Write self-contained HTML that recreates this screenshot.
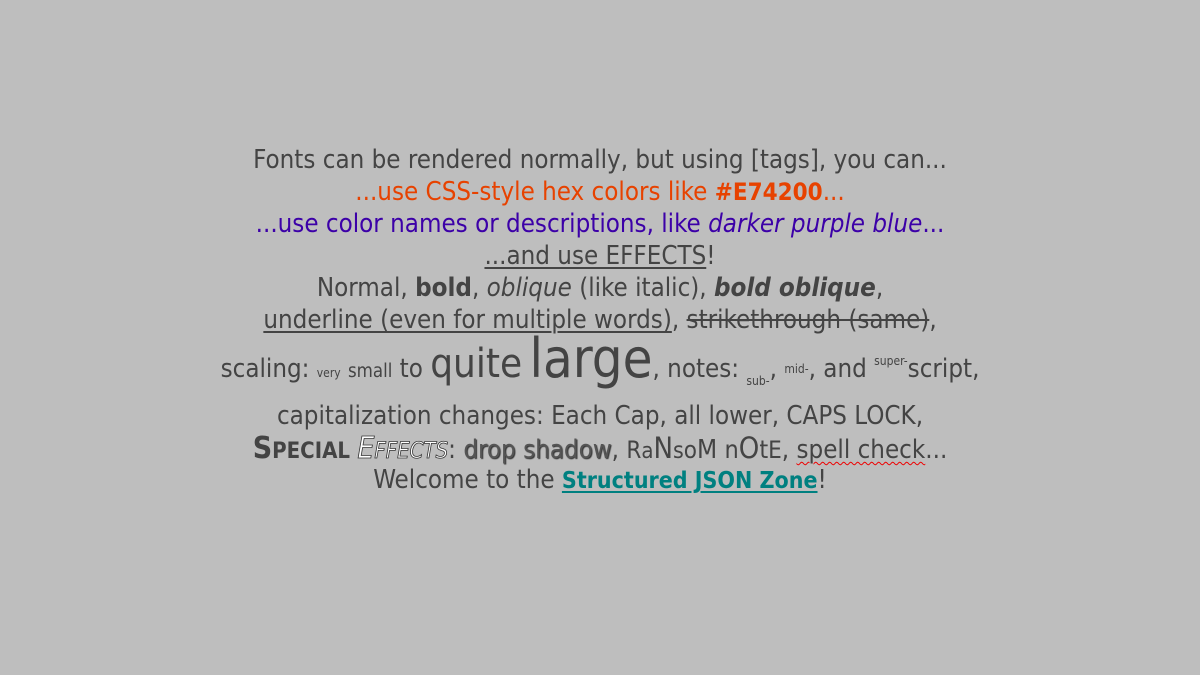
<!DOCTYPE html>
<html><head><meta charset="utf-8"><style>
html,body{margin:0;padding:0;}
body{width:1200px;height:675px;background:#bebebe;position:relative;overflow:hidden;
font-family:"DejaVu Sans Condensed","DejaVu Sans","Liberation Sans",sans-serif;font-stretch:condensed;color:#444;}
.l{position:absolute;left:0;width:1200px;text-align:center;font-size:25.7px;line-height:32px;white-space:nowrap;}
.o{color:#e74200}.p{color:#3c00a8}
u{text-decoration-thickness:2px;text-underline-offset:3px}
s{text-decoration-thickness:2px}
.sh{text-shadow:1px 1px 1px #333;color:#555}
.ef{color:#fff;font-style:italic;-webkit-text-stroke:0.8px #333;font-size:22px}
.sp{text-decoration:underline wavy #e00;text-decoration-thickness:1px;text-underline-offset:3px}
</style></head><body>
<div class="l" style="top:144px">Fonts can be rendered normally, but using [tags], you can...</div>
<div class="l o" style="top:176px">...use CSS-style hex colors like <b style="font-size:24px">#E74200</b>...</div>
<div class="l p" style="top:208px">...use color names or descriptions, like <i>darker purple blue</i>...</div>
<div class="l" style="top:240px"><u>...and use EFFECTS</u>!</div>
<div class="l" style="top:272px">Normal, <b>bold</b>, <i>oblique</i> (like italic), <b><i>bold oblique</i></b>,</div>
<div class="l" style="top:304px"><u>underline (even for multiple words)</u>, <s>strikethrough (same)</s>,</div>
<div class="l" style="top:334px;line-height:50px">scaling: <span style="font-size:12px">very</span> <span style="font-size:18.5px">small</span> to <span style="font-size:40px">quite</span> <span style="font-size:54px">large</span>, notes: <span style="font-size:12px;vertical-align:-8px">sub-</span>, <span style="font-size:12px;vertical-align:4px">mid-</span>, and <span style="font-size:12px;vertical-align:12px">super-</span>script,</div>
<div class="l" style="top:400px">capitalization changes: Each Cap, all lower, CAPS LOCK,</div>
<div class="l" style="top:432px"><b style="font-size:30px">S</b><b style="font-size:22px">PECIAL</b> <span class="ef" style="font-size:30px">E</span><span class="ef">FFECTS</span>: <span class="sh">drop shadow</span>, <span style="font-size:24px">R</span><span style="font-size:22px">a</span><span style="font-size:29px">N</span><span style="font-size:23px">s</span><span style="font-size:24px">o</span><span style="font-size:26px">M</span> <span style="font-size:25px">n</span><span style="font-size:29px">O</span><span style="font-size:25px">t</span><span style="font-size:24px">E</span>, <span class="sp">spell check</span>...</div>
<div class="l" style="top:464px">Welcome to the <u style="color:#008080"><b style="font-size:23px">Structured JSON Zone</b></u>!</div>
</body></html>
